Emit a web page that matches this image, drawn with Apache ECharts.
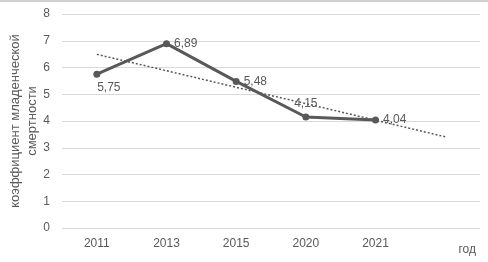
<!DOCTYPE html>
<html lang="ru">
<head>
<meta charset="UTF-8">
<title>Коэффициент младенческой смертности</title>
<style>
    html, body { margin: 0; padding: 0; background: #fff; }
    #chart { width: 488px; height: 262px; }
</style>
<script src="https://cdn.jsdelivr.net/npm/echarts/dist/echarts.min.js"></script>
</head>
<body>
<div id="chart"></div>
<script>
    // data
    var years = ['2011', '2013', '2015', '2020', '2021', ''];
    var rate = [5.75, 6.89, 5.48, 4.15, 4.04, null];
    var trend = [6.49, 5.88, 5.26, 4.65, 4.03, 3.41];
    var labelPos = ['bottom', 'right', 'right', 'top', 'right'];

    var grey = '#595959';
    var chart = echarts.init(document.getElementById('chart'));

    var option = {
        animation: false,
        textStyle: { fontFamily: 'Liberation Sans, Arial, sans-serif' },
        graphic: [{
            type: 'rect',
            shape: { x: 0, y: 0, width: 488, height: 2 },
            style: { fill: '#d0d0d0' },
            silent: true
        }],
        grid: { left: 62, right: 8, top: 14, bottom: 34, outerBoundsMode: 'none', containLabel: false },
        xAxis: {
            type: 'category',
            data: years,
            boundaryGap: true,
            name: 'год',
            nameLocation: 'end',
            nameGap: 0,
            nameMoveOverlap: false,
            nameTextStyle: { color: grey, fontSize: 12, align: 'right', verticalAlign: 'top', padding: [16, 4, 0, 0] },
            axisLine: { show: false },
            axisTick: { show: false },
            axisLabel: { color: grey, fontSize: 12, margin: 10 }
        },
        yAxis: {
            type: 'value',
            min: 0,
            max: 8,
            interval: 1,
            name: 'коэффициент младенческой\nсмертности',
            nameLocation: 'middle',
            nameGap: 21,
            nameMoveOverlap: false,
            nameTextStyle: { color: grey, fontSize: 13, lineHeight: 17 },
            axisLabel: { color: grey, fontSize: 12, margin: 12 },
            splitLine: { lineStyle: { color: '#d9d9d9', width: 1 } }
        },
        series: [
            {
                type: 'line',
                data: trend,
                symbol: 'none',
                silent: true,
                lineStyle: { color: grey, width: 1.5, type: [2, 2] }
            },
            {
                type: 'line',
                data: rate.map(function (v, i) {
                    return v === null ? null : {
                        value: v,
                        label: { position: labelPos[i], offset: i === 0 ? [12, 0] : [0, 0] }
                    };
                }),
                symbol: 'circle',
                symbolSize: 7,
                itemStyle: { color: grey },
                lineStyle: { color: grey, width: 3 },
                label: {
                    show: true,
                    color: grey,
                    fontSize: 12,
                    distance: 4,
                    formatter: function (p) { return String(p.value).replace('.', ','); }
                }
            }
        ]
    };
    chart.setOption(option);
</script>
</body>
</html>
